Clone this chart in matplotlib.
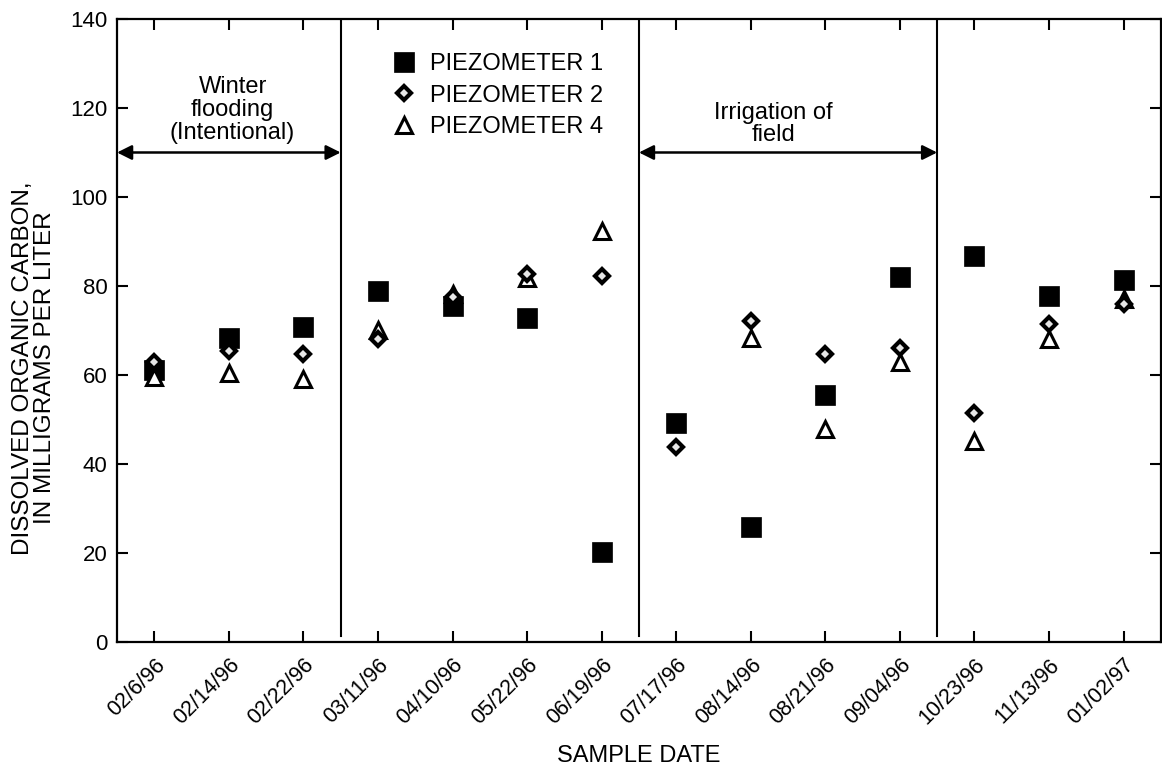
import matplotlib.pyplot as plt
import numpy as np

plt.rcParams['font.family'] = ['Liberation Sans', 'DejaVu Sans']

dates = ["02/6/96", "02/14/96", "02/22/96", "03/11/96", "04/10/96", "05/22/96", "06/19/96",
         "07/17/96", "08/14/96", "08/21/96", "09/04/96", "10/23/96", "11/13/96", "01/02/97"]
piezo1 = [61.1, 68.3, 70.8, 78.9, 75.4, 72.9, 20.3, 49.3, 25.8, 55.5, 82.0, 86.8, 77.8, 81.4]
piezo2 = [62.9, 65.5, 64.7, 68.2, 77.6, 82.8, 82.3, 43.9, 72.2, 64.7, 66.1, 51.5, 71.4, 75.9]
piezo4 = [59.5, 60.4, 59.1, 70.2, 78.3, 81.7, 92.4, np.nan, 68.3, 47.9, 63.0, 45.1, 68.2, 77.0]

period_breaks = [2.5, 6.5, 10.5]

fig = plt.figure(figsize=(11.62, 7.72), dpi=100)
ax = fig.add_axes([0.1007, 0.1684, 0.8983, 0.807])

x = np.arange(len(dates))
h1, = ax.plot(x, piezo1, 's', ms=14.5, mfc='black', mec='black', mew=0.5,
              label='PIEZOMETER 1', zorder=3)
h4, = ax.plot(x, piezo4, '^', ms=11, mfc='white', mec='black', mew=2.2,
              label='PIEZOMETER 4', zorder=4)
h2, = ax.plot(x, piezo2, 'D', ms=7.5, mfc='#e6e6e6', mec='black', mew=3,
              label='PIEZOMETER 2', zorder=5)

for b in period_breaks:
    ax.plot([b, b], [1.4, 139.5], color='black', lw=1.5, zorder=2)

# arrows marking the two periods
ax.annotate('', xy=(-0.5, 110), xytext=(2.5, 110),
            arrowprops=dict(arrowstyle='<|-|>', color='black', lw=1.8, mutation_scale=22,
                            shrinkA=0, shrinkB=0))
ax.annotate('', xy=(6.5, 110), xytext=(10.5, 110),
            arrowprops=dict(arrowstyle='<|-|>', color='black', lw=1.8, mutation_scale=22,
                            shrinkA=0, shrinkB=0))
ax.text(1.05, 119.6, "Winter\nflooding\n(Intentional)", ha='center', va='center',
        fontsize=17, linespacing=1.05)
ax.text(8.3, 116.5, "Irrigation of\nfield", ha='center', va='center',
        fontsize=17, linespacing=1.0)

ax.set_xlim(-0.5, 13.5)
ax.set_ylim(0, 140)
ax.set_yticks(np.arange(0, 141, 20))
ax.set_xticks(x)
ax.set_xticklabels(dates, rotation=45, ha='right', va='top', rotation_mode='anchor',
                   fontsize=15.5)
ax.tick_params(axis='y', labelsize=16, pad=7)
ax.tick_params(axis='x', pad=9)
ax.tick_params(direction='in', length=8, width=1.5, top=True, right=True)
for s in ax.spines.values():
    s.set_linewidth(1.6)

ax.set_xlabel("SAMPLE DATE", fontsize=17)
ax.xaxis.set_label_coords(0.5, -0.165)
ax.set_ylabel("DISSOLVED ORGANIC CARBON,\nIN MILLIGRAMS PER LITER", fontsize=17.5,
              linespacing=1.0)
ax.yaxis.set_label_coords(-0.058, 0.44)

ax.legend(handles=[h1, h2, h4], loc='upper left', bbox_to_anchor=(0.2634, 0.945),
          frameon=False, fontsize=17, handletextpad=0.6, labelspacing=0.4,
          borderpad=0, borderaxespad=0, handlelength=1.0)

fig.savefig('out.png', dpi=100)
